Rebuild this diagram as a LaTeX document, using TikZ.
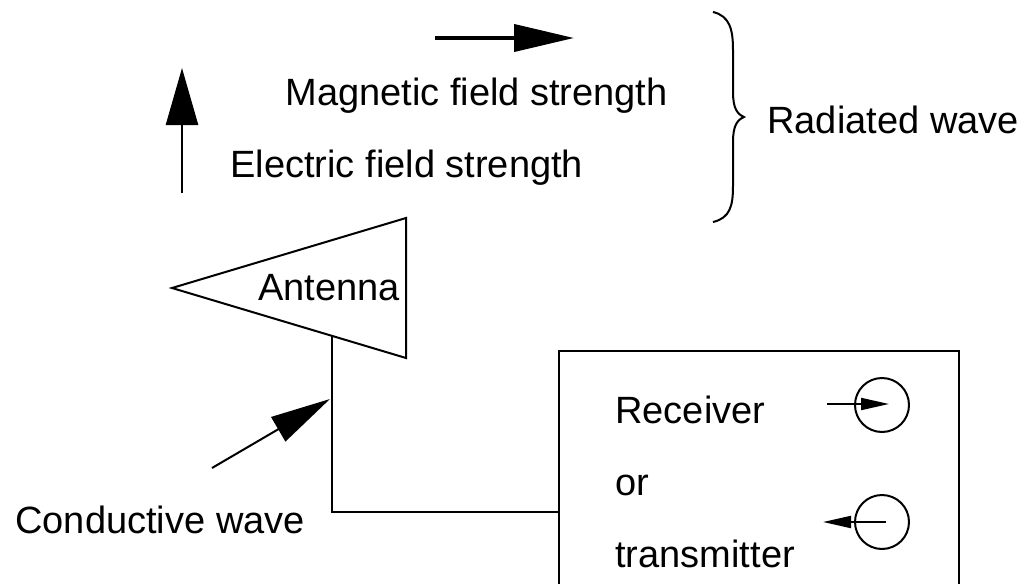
\documentclass[tikz,border=0pt]{standalone}
\usepackage{fontspec}
\setmainfont{Liberation Sans}
\usetikzlibrary{arrows.meta}

\begin{document}
\begin{tikzpicture}[x=0.5pt,y=-0.5pt,
    lbl/.style={inner sep=0pt, anchor=base west, font=\fontsize{19}{22}\selectfont},
    wire/.style={line width=1pt},
    port/.style={draw, line width=1pt, circle, minimum size=27pt, inner sep=0pt},
    fieldtip/.style={-{Triangle[length=28.5pt,width=16pt]}},
    smalltip/.style={-{Triangle[length=14pt,width=6pt]}}]
        \clip (0,0) rectangle (1024,584);
        % radiated wave
        \coordinate (ebot) at (182,193); \coordinate (etop) at (182,68);
        \draw[line width=1.3pt, fieldtip] (ebot) -- (etop);
        \coordinate (hleft) at (435,38); \coordinate (hright) at (574,38);
        \draw[line width=2pt, -{Triangle[length=30pt,width=13.5pt]}] (hleft) -- (hright);
        \node[lbl] (magn) at (285,105) {Magnetic field strength};
        \node[lbl] (elec) at (230,177) {Electric field strength};
        \coordinate (btop) at (713,12); \coordinate (bmid) at (744,117); \coordinate (bbot) at (713,222);
        \draw[wire] (btop) .. controls (730,16) and (733,30) .. (733,50) -- (733,92)
            .. controls (733,108) and (737,114) .. (bmid)
            .. controls (737,120) and (733,126) .. (733,142) -- (733,186)
            .. controls (733,206) and (730,218) .. (bbot);
        \node[lbl] (rad) at (767,133) {Radiated wave};
        % antenna
        \coordinate (atip) at (172,288); \coordinate (atop) at (406,218); \coordinate (abot) at (406,358);
        \draw[wire] (atip) -- (atop) -- (abot) -- cycle;
        \node[lbl] (ant) at (258,300) {Antenna};
        % conductive wave
        \coordinate (feed) at (332,336); \coordinate (rxin) at (559,512);
        \draw[wire] (feed) |- (rxin);
        \coordinate (ctail) at (212,468); \coordinate (chead) at (330,399);
        \draw[wire, -{Triangle[length=30pt,width=14pt]}] (ctail) -- (chead);
        \node[lbl] (cond) at (15,533) {Conductive wave};
        % receiver / transmitter
        \draw[wire] (559,351) rectangle (959,640);
        \node[lbl] (recv) at (615,423) {Receiver};
        \node[lbl] (or) at (615,495) {or};
        \node[lbl] (trans) at (615,567) {transmitter};
        \node[port] (cin) at (882,405) {};
        \node[port] (cout) at (882,522) {};
        \coordinate (inend) at (827,404); \coordinate (outend) at (823,522);
        \draw[wire, smalltip] (inend) -- (889,404);
        \draw[wire, smalltip] (886,522) -- (outend);
    \end{tikzpicture}
\end{document}
